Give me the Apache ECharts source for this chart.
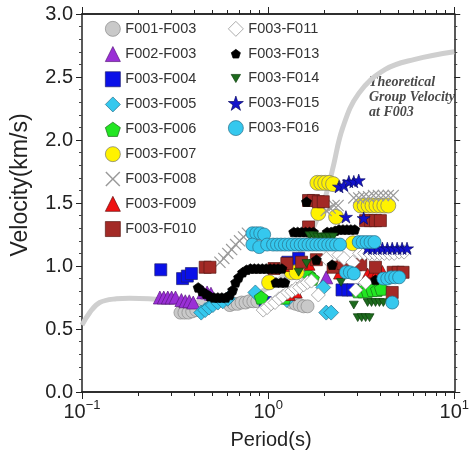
<!DOCTYPE html>
<html><head><meta charset="utf-8">
<script src="https://cdn.jsdelivr.net/npm/echarts@6/dist/echarts.min.js"></script>
<style>html,body{margin:0;padding:0;background:#fff}#c{width:472px;height:457px}</style>
</head><body><div id="c"></div>
<script>
// ---------- data: [period (s), group velocity (km/s)] ----------
const seriesNames = ['F001-F003','F002-F003','F003-F004','F003-F005','F003-F006','F003-F007','F003-F008','F003-F009','F003-F010','F003-F011','F003-F013','F003-F014','F003-F015','F003-F016'];
const F001_F003 = [[0.338,0.63],[0.355,0.63],[0.373,0.63],[0.391,0.64],[0.411,0.65],[0.622,0.69],[0.653,0.70],[0.686,0.70],[0.720,0.71],[0.756,0.71],[0.793,0.72],[0.833,0.72],[0.875,0.72],[1.339,0.71],[1.406,0.70],[1.477,0.69],[1.551,0.68],[1.628,0.68]];
const F002_F003 = [[0.262,0.75],[0.275,0.75],[0.289,0.75],[0.303,0.75],[0.318,0.75],[0.342,0.73],[0.359,0.72],[0.377,0.72],[0.396,0.71],[0.448,0.79],[0.470,0.79],[0.493,0.78],[2.052,0.91]];
const F003_F004 = [[0.265,0.97],[0.347,0.90],[0.368,0.92],[0.387,0.94],[0.964,0.71],[1.276,1.03],[1.459,1.06],[2.494,0.81],[2.683,0.81],[2.851,0.81]];
const F003_F005 = [[0.437,0.63],[0.459,0.65],[0.481,0.67],[0.505,0.69],[0.537,0.71],[0.571,0.72],[0.607,0.74],[0.854,0.79],[1.260,0.73],[1.978,0.83],[2.052,0.63],[2.181,0.63]];
const F003_F006 = [[0.918,0.75],[1.230,0.75],[1.648,0.93],[1.730,0.90],[3.030,0.80],[3.220,0.80],[3.423,0.80],[3.638,0.81],[3.867,0.81],[4.060,0.82]];
const F003_F007 = [[1.839,1.66],[1.931,1.66],[2.027,1.66],[2.128,1.66],[2.234,1.65],[1.861,1.42],[2.318,1.39],[3.143,1.48],[3.300,1.48],[3.465,1.48],[3.638,1.48],[3.820,1.48],[4.011,1.48],[4.211,1.48],[4.421,1.48],[1.012,0.87],[1.339,0.95],[1.424,0.95],[2.851,1.18]];
const F003_F008 = [[0.551,1.03],[0.578,1.06],[0.607,1.10],[0.637,1.13],[0.669,1.17],[0.702,1.20],[0.738,1.23],[0.774,1.26],[2.052,1.44],[2.154,1.46],[2.262,1.48],[2.375,1.48],[2.886,1.54],[3.067,1.54],[3.260,1.55],[3.465,1.55],[3.683,1.56],[3.914,1.56],[4.160,1.56],[4.421,1.56],[4.699,1.56]];
const F003_F009 = [[1.215,1.00],[1.307,0.77],[1.424,0.79],[1.668,1.01],[2.404,0.94],[3.423,0.94],[3.638,0.95],[3.867,0.96],[4.110,0.96]];
const F003_F010 = [[0.459,0.99],[0.487,0.99],[1.648,1.52],[1.751,1.52],[1.861,1.51],[1.978,1.51],[1.648,1.31],[3.340,1.36],[3.550,1.36],[3.774,1.36],[4.011,1.36],[1.076,0.98],[1.260,1.02],[1.513,1.03],[1.816,1.05],[2.234,0.99],[2.524,1.02],[3.774,0.99],[4.699,0.95],[4.994,0.95],[5.308,0.95],[4.642,0.79],[2.957,1.01],[3.143,1.01]];
const F003_F011 = [[0.941,0.65],[0.988,0.67],[1.037,0.70],[1.089,0.71],[1.143,0.74],[1.200,0.76],[1.276,0.79],[1.339,0.80],[1.406,0.82],[1.477,0.83],[1.551,0.85],[1.628,0.87],[1.709,0.88],[1.861,0.77],[2.052,1.06],[2.404,1.09],[2.555,1.06],[2.851,1.03],[3.105,1.10],[3.300,1.10],[3.507,1.10],[3.728,1.10],[3.962,1.10],[4.211,1.10],[4.476,1.10],[4.757,1.10],[5.055,1.11],[5.374,1.11],[3.340,0.87],[2.957,0.81]];
const F003_F013 = [[0.421,0.83],[0.442,0.80],[0.464,0.78],[0.487,0.76],[0.512,0.75],[0.537,0.75],[0.564,0.75],[0.592,0.75],[0.622,0.77],[0.645,0.81],[0.669,0.87],[0.694,0.91],[0.729,0.95],[0.765,0.97],[0.803,0.98],[0.843,0.98],[0.885,0.98],[0.930,0.98],[0.976,0.98],[1.025,0.98],[1.076,0.98],[1.130,0.98],[1.186,0.98],[1.102,0.87],[1.172,0.87],[1.230,0.87],[1.373,1.27],[1.441,1.27],[1.513,1.27],[1.589,1.27],[1.668,1.27],[1.751,1.27],[2.077,1.27],[2.181,1.27],[2.290,1.28],[2.404,1.29],[2.524,1.29],[2.650,1.29],[2.782,1.29],[2.921,1.29],[1.608,1.51],[1.816,1.05],[3.774,0.89],[2.207,1.01]];
const F003_F014 = [[1.668,1.24],[1.751,1.24],[1.839,1.23],[1.931,1.23],[2.027,1.23],[2.128,1.23],[2.234,1.23],[1.459,0.95],[1.608,1.02],[2.463,0.87],[2.886,0.69],[3.423,0.71],[3.594,0.71],[3.774,0.71],[3.962,0.71],[4.160,0.71],[3.030,0.59],[3.181,0.59],[3.340,0.59],[3.507,0.59]];
const F003_F015 = [[2.404,1.63],[2.555,1.64],[2.715,1.67],[2.886,1.67],[3.067,1.68],[2.618,1.39],[3.260,1.38],[3.423,1.14],[3.638,1.14],[3.867,1.14],[4.110,1.14],[4.368,1.14],[4.642,1.14],[4.933,1.14],[5.244,1.14],[5.574,1.14]];
const F003_F016 = [[0.823,1.26],[0.864,1.26],[0.907,1.26],[0.952,1.25],[0.823,1.17],[0.896,1.15],[0.988,1.17],[1.063,1.17],[1.116,1.17],[1.172,1.17],[1.230,1.17],[1.291,1.17],[1.356,1.17],[1.424,1.17],[1.495,1.17],[1.570,1.17],[1.648,1.17],[1.730,1.17],[1.816,1.17],[1.907,1.17],[2.003,1.17],[2.103,1.17],[2.207,1.17],[2.318,1.17],[2.434,1.17],[3.067,1.19],[3.220,1.19],[3.381,1.19],[3.550,1.19],[3.728,1.19],[2.618,0.95],[2.749,0.95],[2.886,0.94],[4.160,0.90],[4.368,0.90],[4.586,0.91],[4.815,0.91],[5.055,0.91],[4.642,0.71]];
const theoryPeriod = [0.1,0.11,0.1245,0.153,0.18,0.229,0.318,0.421,0.607,0.875,1.26,1.61,1.93,2.13,2.23,2.52,3.07,4.26,6.14,10];
const theoryVel    = [0.53,0.63,0.71,0.74,0.745,0.74,0.72,0.71,0.71,0.78,0.95,1.2,1.45,1.66,1.78,2.1,2.37,2.56,2.64,2.70];
const xMajorTicks = [0.1,1,10];
const xMinorTicks = [0.2,0.3,0.4,0.5,0.6,0.7,0.8,0.9,2,3,4,5,6,7,8,9];
const xTickLabels = {'0.1':['10','\u22121'],'1':['10','0'],'10':['10','1']};
const annotationText = ['Theoretical','Group Velocity','at F003'];
const seriesData = [F001_F003,F002_F003,F003_F004,F003_F005,F003_F006,F003_F007,F003_F008,F003_F009,F003_F010,F003_F011,F003_F013,F003_F014,F003_F015,F003_F016];

// ---------- styles ----------
const PENT = 'path://M50,0 L97.6,34.5 L79.4,90.5 L20.6,90.5 L2.4,34.5 Z';
const PENT_SMALL = 'path://M-28,-28 M128,118 M50,0 L97.6,34.5 L79.4,90.5 L20.6,90.5 L2.4,34.5 Z';
const STAR = 'path://M50,0 L61.2,34.5 L97.6,34.5 L68.2,55.9 L79.4,90.5 L50,69.1 L20.6,90.5 L31.8,55.9 L2.4,34.5 L38.8,34.5 Z';
const INVTRI = 'path://M0,0 L100,0 L50,86.6 Z';
const INVTRI_SMALL = 'path://M-30,-36 M130,122 M0,0 L100,0 L50,86.6 Z';
const XMARK = 'path://M0,7 L7,0 L50,43 L93,0 L100,7 L57,50 L100,93 L93,100 L50,57 L7,100 L0,93 L43,50 Z';
const styles = [
  {symbol:'circle', size:13, color:'#c9c9c9', border:'#8a8a8a'},
  {symbol:'triangle', size:13, color:'#9a2fd6', border:'#5a1a80'},
  {symbol:'rect', size:12, color:'#0a10e8', border:'#202070'},
  {symbol:'diamond', size:15, color:'#35c8ee', border:'#2a6f88'},
  {symbol:PENT, size:14, color:'#22e622', border:'#1a6a1a'},
  {symbol:'circle', size:15, color:'#fff200', border:'#777'},
  {symbol:XMARK, size:12, color:'#9a9a9a', border:'#9a9a9a', bw:0},
  {symbol:'triangle', size:11, color:'#ee1111', border:'#661010'},
  {symbol:'rect', size:12, color:'#a32a26', border:'#5a1a16'},
  {symbol:'diamond', size:14, color:'#ffffff', border:'#8a8a8a'},
  {symbol:PENT, size:10, color:'#000', border:'#000', legendIcon:PENT_SMALL},
  {symbol:INVTRI, size:9, color:'#1d6b1d', border:'#0f3f0f', legendIcon:INVTRI_SMALL},
  {symbol:STAR, size:13, color:'#1212cc', border:'#0a0a66'},
  {symbol:'circle', size:13, color:'#35c8ee', border:'#2a6f88'}
];
const FONT = '"Liberation Sans", Arial, sans-serif';

const chart = echarts.init(document.getElementById('c'), null, {renderer:'canvas'});

const axisLineStyle = {color:'#222', width:1.5};
function xAxisDef(position, ticks, len, labels) {
  return {
    type:'log', logBase:10, min:0.1, max:10, position: position, gridIndex:0,
    axisLine:{show:true, onZero:false, lineStyle:axisLineStyle},
    axisTick:{show:true, inside:false, length:len, customValues:ticks, lineStyle:{color:'#222', width:1}},
    axisLabel: labels ? {
      show:true, margin:7, customValues:xMajorTicks, color:'#222', fontFamily:FONT,
      formatter: v => { const k = String(+v.toPrecision(3)); const t = xTickLabels[k]; return t ? '{a|' + t[0] + '}{b|' + t[1] + '}' : ''; },
      rich:{ a:{fontSize:20, lineHeight:26, fontFamily:FONT, color:'#222'}, b:{fontSize:13, lineHeight:13, verticalAlign:'top', fontFamily:FONT, color:'#222'} }
    } : {show:false},
    splitLine:{show:false}, minorSplitLine:{show:false}
  };
}
function yAxisDef(position, labels) {
  return {
    type:'value', min:0, max:3, interval:0.5, position: position,
    axisLine:{show:true, onZero:false, lineStyle:axisLineStyle},
    axisTick:{show:true, inside:false, length:6, lineStyle:{color:'#222', width:1}},
    minorTick:{show:true, splitNumber:5, length:3, lineStyle:{color:'#444', width:1}},
    axisLabel: labels ? {show:true, margin:9, fontSize:20, fontFamily:FONT, color:'#222', formatter: v => v.toFixed(1)} : {show:false},
    splitLine:{show:false}
  };
}

const series = [{
  type:'line', name:'theory', data: theoryPeriod.map((p,i)=>[p, theoryVel[i]]),
  smooth:0.4, showSymbol:false, symbol:'none', z:1, silent:true,
  lineStyle:{color:'#cfcfcf', width:5}, xAxisIndex:0, yAxisIndex:0
}];
seriesNames.forEach((n,i)=>{
  const s = styles[i];
  series.push({
    type:'scatter', name:n, data:seriesData[i], xAxisIndex:0, yAxisIndex:0,
    symbol:s.symbol, symbolSize:s.size, symbolKeepAspect:true, z:2+i,
    itemStyle:{color:s.color, borderColor:s.border, borderWidth: s.bw === 0 ? 0 : 0.7, opacity:1}
  });
});

function legendDef(names, left) {
  return {
    orient:'vertical', left:left, top:21, padding:0, itemWidth:15, itemHeight:15, itemGap:9.5,
    textStyle:{fontFamily:FONT, fontSize:14.5, color:'#333'},
    selectedMode:false,
    data: names.map(n => { const s = styles[seriesNames.indexOf(n)];
      return {name:n, icon: s.legendIcon || s.symbol, itemStyle:{borderWidth: s.bw === 0 ? 0 : 0.7}}; })
  };
}

chart.setOption({
  animation:false,
  backgroundColor:'#fff',
  grid:{left:82, right:12, top:14, bottom:65, containLabel:false},
  xAxis:[ xAxisDef('bottom', xMajorTicks, 7, true), xAxisDef('bottom', xMinorTicks, 4, false),
          xAxisDef('top', xMajorTicks, 7, false), xAxisDef('top', xMinorTicks, 4, false) ],
  yAxis:[ yAxisDef('left', true), yAxisDef('right', false) ],
  legend:[ legendDef(seriesNames.slice(0,9), 105), legendDef(seriesNames.slice(9), 228) ],
  series: series,
  graphic:[
    {type:'text', x:271, y:440, style:{text:'Period(s)', fontFamily:FONT, fontSize:20, fill:'#222', textAlign:'center', textVerticalAlign:'middle'}},
    {type:'text', x:21, y:185, rotation:Math.PI/2, style:{text:'Velocity(km/s)', fontFamily:FONT, fontSize:23, fill:'#222', textAlign:'center', textVerticalAlign:'middle'}},
    {type:'text', x:369, y:75, style:{text:annotationText.join('\n'), fontFamily:'"Liberation Serif", "Times New Roman", serif', fontStyle:'italic', fontWeight:'bold', fontSize:14, lineHeight:15, fill:'#4a4a4a', textAlign:'left', textVerticalAlign:'top'}}
  ]
});
</script></body></html>
